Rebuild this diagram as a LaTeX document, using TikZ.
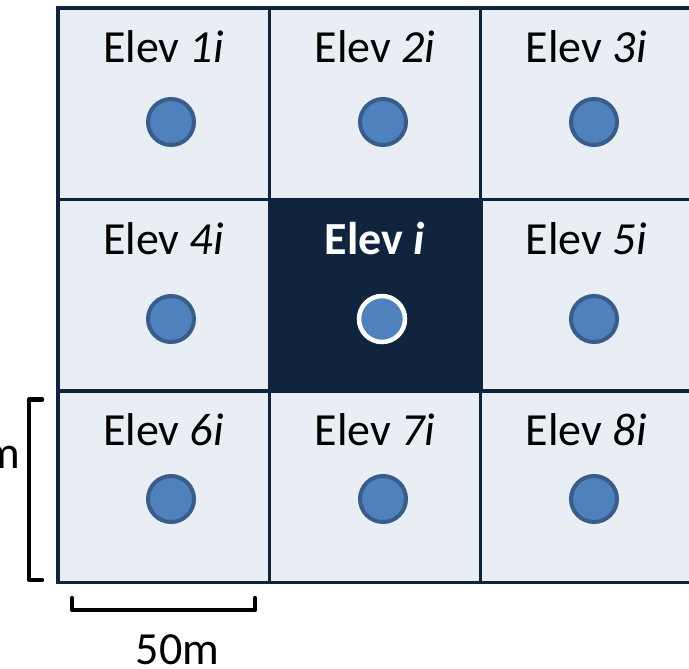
\documentclass[tikz,border=0pt]{standalone}
\usepackage{fontspec}
\setmainfont{Carlito}
\definecolor{navy}{HTML}{10243E}
\definecolor{cellfill}{HTML}{E9EDF4}
\definecolor{dotfill}{HTML}{4F81BD}
\definecolor{dotedge}{HTML}{385D8A}
\begin{document}
\begin{tikzpicture}[x=1pt,y=-1pt,
  cell/.style={draw=navy,line width=3.5pt,fill=cellfill,minimum width=211.5pt,minimum height=191pt,inner sep=0pt,outer sep=0pt},
  center cell/.style={cell,fill=navy},
  lbl/.style={inner sep=0pt,anchor=base,font=\fontsize{46}{50}\selectfont},
  dot/.style={circle,draw=dotedge,fill=dotfill,line width=4pt,minimum size=46pt,inner sep=0pt},
  white dot/.style={dot,draw=white,line width=4.5pt},
  bracket/.style={line width=4.5pt,line join=round,line cap=round,black}]
\useasboundingbox (0,0) rectangle (689,669);
% cells
\node[cell] (c1) at (163.5,103.75) {};
\node[cell] (c2) at (375,103.75) {};
\node[cell] (c3) at (586.25,103.75) {};
\node[cell] (c4) at (163.5,295) {};
\node[cell] (c5) at (586.25,295) {};
\node[cell] (c6) at (163.5,486.75) {};
\node[cell] (c7) at (375,486.75) {};
\node[cell] (c8) at (586.25,486.75) {};
\node[center cell] (c0) at (375,295) {};
% labels
\node[lbl] (t1) at (163.5,63) {Elev \textit{1i}};
\node[lbl] (t2) at (375,63) {Elev \textit{2i}};
\node[lbl] (t3) at (586.25,63) {Elev \textit{3i}};
\node[lbl] (t4) at (163.5,254) {Elev \textit{4i}};
\node[lbl,text=white] (t0) at (375,254) {\bfseries Elev \textit{i}};
\node[lbl] (t5) at (586.25,254) {Elev \textit{5i}};
\node[lbl] (t6) at (163.5,445) {Elev \textit{6i}};
\node[lbl] (t7) at (375,445) {Elev \textit{7i}};
\node[lbl] (t8) at (586.25,445) {Elev \textit{8i}};
% dots
\node[dot] (d1) at (171,122) {};
\node[dot] (d2) at (383,122) {};
\node[dot] (d3) at (594,122) {};
\node[dot] (d4) at (171,319) {};
\node[white dot] (d0) at (382,319) {};
\node[dot] (d5) at (594,319) {};
\node[dot] (d6) at (171,499) {};
\node[dot] (d7) at (383,499) {};
\node[dot] (d8) at (594,499) {};
% scale brackets
\coordinate (lb1) at (42,399.5);
\coordinate (lb2) at (29,399.5);
\coordinate (lb3) at (29,580);
\coordinate (lb4) at (42,580);
\draw[bracket] (lb1) -- (lb2) -- (lb3) -- (lb4);
\node[lbl,anchor=base east] (lm) at (20,468) {50m};
\coordinate (bb1) at (72,598);
\coordinate (bb2) at (72,610);
\coordinate (bb3) at (255,610);
\coordinate (bb4) at (255,598);
\draw[bracket] (bb1) -- (bb2) -- (bb3) -- (bb4);
\node[lbl] (bm) at (177.5,664) {50m};
\end{tikzpicture}
\end{document}
